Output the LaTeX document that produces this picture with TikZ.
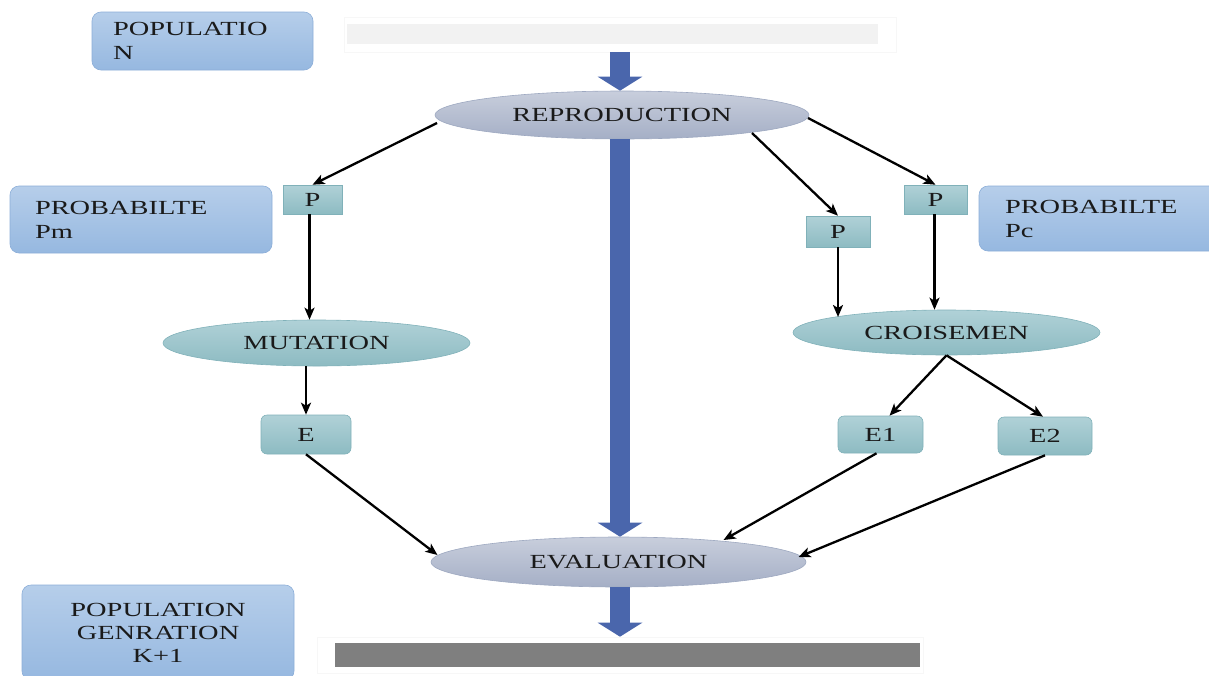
\documentclass[tikz,border=0pt]{standalone}
\usepackage{fontspec}
\setmainfont{Liberation Serif}[FakeStretch=1.42]
\usetikzlibrary{shapes.geometric,arrows.meta,calc}
\definecolor{btop}{HTML}{B6CEEA}
\definecolor{bbot}{HTML}{96B8E0}
\definecolor{bbord}{HTML}{8CAED8}
\definecolor{ttop}{HTML}{B0D1D7}
\definecolor{tbot}{HTML}{8DBBC2}
\definecolor{tbord}{HTML}{80B1B9}
\definecolor{gtop}{HTML}{C8CEDC}
\definecolor{gbot}{HTML}{A5AFC6}
\definecolor{gbord}{HTML}{9DA8C0}
\definecolor{arrowblue}{HTML}{4A66AC}
\definecolor{bardark}{HTML}{7F7F7F}
\definecolor{barlight}{HTML}{F2F2F2}
\definecolor{txt}{HTML}{1A1A1A}
\begin{document}
\begin{tikzpicture}[x=1pt,y=-1pt,
  font=\fontsize{20}{24}\selectfont, text=txt,
  bluebox/.style={draw=bbord, top color=btop, bottom color=bbot, rounded corners=9pt, line width=0.6pt, inner sep=0pt},
  tealbox/.style={draw=tbord, top color=ttop, bottom color=tbot, line width=0.6pt, inner sep=0pt},
  tealrbox/.style={tealbox, rounded corners=6pt},
  tealell/.style={ellipse, draw=tbord, top color=ttop, bottom color=tbot, line width=0.6pt, inner sep=0pt},
  greyell/.style={ellipse, draw=gbord, top color=gtop, bottom color=gbot, line width=0.6pt, inner sep=0pt},
  conn/.style={-{Stealth[length=12pt,width=10pt,inset=3pt]}, line width=2.3pt, draw=black},
  bigarrow/.style={line width=20pt, draw=arrowblue, -{Triangle[length=14pt,width=44pt]}},
  framebox/.style={draw=black!3, fill=white, line width=0.6pt, inner sep=0pt},
]
\useasboundingbox (0,0) rectangle (1209,675);

% side boxes
\node[bluebox, minimum width=221pt, minimum height=58pt, text width=179pt, align=left] (pop) at (202.5,41) {POPULATIO\\N};
\node[bluebox, minimum width=262pt, minimum height=67pt, text width=212pt, align=left] (pm) at (141,219.5) {PROBABILTE\\Pm};
\node[bluebox, minimum width=245pt, minimum height=65pt, text width=193pt, align=left] (pc) at (1101.5,218.5) {PROBABILTE\\Pc};
\node[bluebox, minimum width=272pt, minimum height=95pt, align=center, font=\fontsize{20}{23}\selectfont] (popk) at (158,632.5) {POPULATION\\GENRATION\\K+1};

% bars
\node[framebox, minimum width=552pt, minimum height=35pt] (frame1) at (620,34.5) {};
\node[fill=barlight, inner sep=0pt, minimum width=531pt, minimum height=20pt] (bar1) at (612.5,34) {};
\node[framebox, minimum width=606pt, minimum height=36pt] (frame2) at (620,655) {};
\node[fill=bardark, inner sep=0pt, minimum width=585pt, minimum height=24pt] (bar2) at (627.5,655) {};

% ellipses
\node[greyell, minimum width=374pt, minimum height=48pt] (rep) at (622,115) {REPRODUCTION};
\node[tealell, minimum width=307pt, minimum height=46pt] (mut) at (316.5,343) {MUTATION};
\node[tealell, minimum width=307pt, minimum height=45pt] (cro) at (946.5,332.5) {CROISEMEN};
\node[greyell, minimum width=375pt, minimum height=50pt] (eva) at (618.5,562) {EVALUATION};

% small boxes
\node[tealbox, minimum width=59pt, minimum height=29pt] (pL) at (312.5,199.5) {P};
\node[tealbox, minimum width=64pt, minimum height=31pt] (pM) at (838,231.5) {P};
\node[tealbox, minimum width=63pt, minimum height=29pt] (pR) at (935.5,199.5) {P};
\node[tealrbox, minimum width=90pt, minimum height=39pt] (E) at (306,434.5) {E};
\node[tealrbox, minimum width=85pt, minimum height=37pt] (E1) at (880.5,434.5) {E1};
\node[tealrbox, minimum width=94pt, minimum height=38pt] (E2) at (1045,436) {E2};

% big blue arrows
\draw[bigarrow] (frame1.south) -- (frame1.south |- rep.north);
\draw[bigarrow] (rep.south -| frame1.south) -- (eva.north -| frame1.south);
\draw[bigarrow] (eva.south -| frame1.south) -- (frame2.north -| frame1.south);

% connectors
\draw[conn] ($(rep)+(-185,8)$) -- (pL.north);
\draw[conn] ($(rep)+(130,18)$) -- (pM.north);
\draw[conn] ($(rep)+(186,3)$) -- (pR.north);
\draw[conn] ($(pL.south)+(-3,0)$) -- ($(pL.south |- mut.north)+(-3,0)$);
\draw[conn] (E.north |- mut.south) -- (E.north);
\draw[conn] (pM.south) -- ($(cro)+(-108.5,-15.5)$);
\draw[conn] ($(pR.south)+(-1,0)$) -- ($(pR.south |- cro.north)+(-1,0)$);
\draw[conn] (cro.south) -- ($(E1.north)+(9,0)$);
\draw[conn] (cro.south) -- ($(E2.north)+(-2,0)$);
\draw[conn] (E.south) -- ($(eva)+(-181,-7)$);
\draw[conn] ($(E1.south)+(-4,0)$) -- ($(eva)+(105,-22)$);
\draw[conn] (E2.south) -- ($(eva)+(180,-5)$);
\end{tikzpicture}
\end{document}
